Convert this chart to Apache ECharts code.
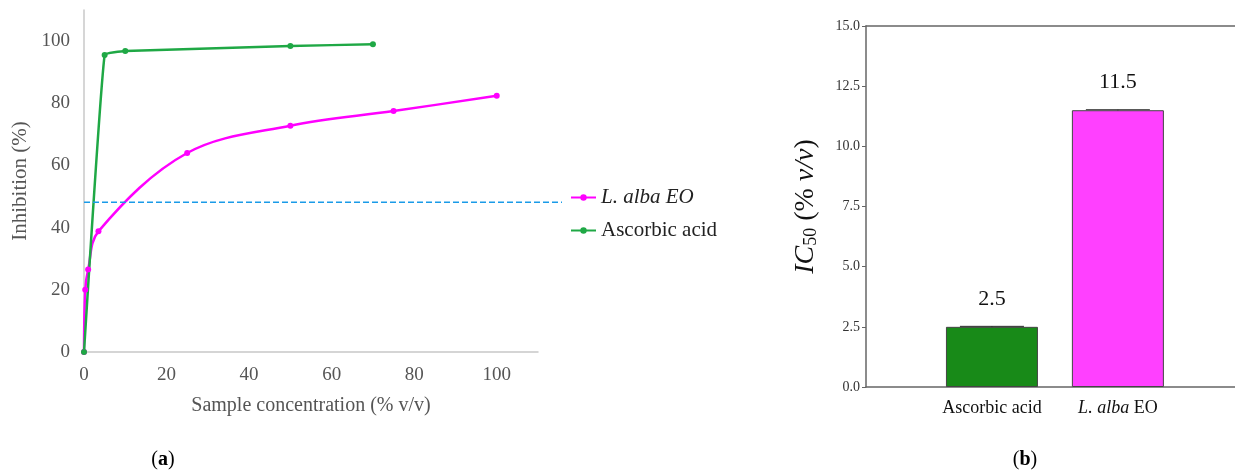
<!DOCTYPE html>
<html><head><meta charset="utf-8">
<script src="https://cdn.jsdelivr.net/npm/echarts@6/dist/echarts.min.js"></script>
<style>html,body{margin:0;padding:0;background:#fff}#c{width:1235px;height:470px}</style>
</head><body><div id="c"></div>
<script>
// ---- data ----
const albaX = [0, 0.3, 1.0, 3.5, 25, 50, 75, 100];
const albaY = [0, 20, 26.5, 38.8, 64, 72.8, 77.5, 82.4];
const ascX = [0, 5, 10, 50, 70];
const ascY = [0, 95.5, 96.8, 98.4, 99];
const halfLine = 48.2;
const barCats = ['', 'Ascorbic acid', 'L. alba EO'];
const barPos = [1, 2];
const ic50 = [2.5, 11.5];
const ic50Err = [0.02, 0.02];
const ic50Ticks = [0, 2.5, 5, 7.5, 10, 12.5, 15];

const serif = '"Liberation Serif", "DejaVu Serif", serif';
const chart = echarts.init(document.getElementById('c'));
const zip = (a, b) => a.map((v, i) => [v, b[i]]);
const barColors = ['#188a18', '#ff40ff'];

chart.setOption({
  animation: false,
  textStyle: { fontFamily: serif },
  title: [
    { text: '({a|a})', left: 158, top: 445, textAlign: 'center',
      textStyle: { fontFamily: serif, fontSize: 20, fontWeight: 'normal', color: '#000',
        rich: { a: { fontFamily: serif, fontSize: 20, fontWeight: 'bold', color: '#000' } } } },
    { text: '({a|b})', left: 1020, top: 445, textAlign: 'center',
      textStyle: { fontFamily: serif, fontSize: 20, fontWeight: 'normal', color: '#000',
        rich: { a: { fontFamily: serif, fontSize: 20, fontWeight: 'bold', color: '#000' } } } }
  ],
  legend: {
    orient: 'vertical', left: 565, top: 182, itemGap: 12, itemWidth: 25, itemHeight: 8,
    textStyle: { fontFamily: serif, fontSize: 21, color: '#222' },
    data: [{ name: 'L. alba EO', textStyle: { fontStyle: 'italic' } }, { name: 'Ascorbic acid' }]
  },
  grid: [
    { left: 84, right: 697, top: 10, bottom: 118 },
    { left: 84, right: 673, top: 10, bottom: 118 },
    { left: 866, right: 0, top: 26, bottom: 83 }
  ],
  xAxis: [
    { gridIndex: 0, type: 'value', min: 0, max: 110, interval: 20,
      name: 'Sample concentration (% v/v)', nameLocation: 'middle', nameGap: 44,
      nameTextStyle: { fontFamily: serif, fontSize: 20, color: '#555' },
      axisLine: { lineStyle: { color: '#c8c8c8', width: 1.5 } }, axisTick: { show: false },
      splitLine: { show: false },
      axisLabel: { fontFamily: serif, fontSize: 19, color: '#555', margin: 14,
        formatter: v => v > 100 ? '' : v } },
    { gridIndex: 1, type: 'value', min: 0, max: 1, show: false },
    { gridIndex: 2, type: 'value', min: 0, max: 2.93, interval: 1,
      axisLine: { lineStyle: { color: '#666', width: 1.5 } }, axisTick: { show: false },
      splitLine: { show: false },
      axisLabel: { fontFamily: serif, fontSize: 18, color: '#111', margin: 12, showMaxLabel: false,
        formatter: v => v === 2 ? '{i|L. alba} EO' : (barCats[v] || ''),
        rich: { i: { fontFamily: serif, fontSize: 18, fontStyle: 'italic', color: '#111' } } } },
    { gridIndex: 2, type: 'value', min: 0, max: 2.93, position: 'top',
      axisLine: { show: true, lineStyle: { color: '#666', width: 1.5 } }, axisTick: { show: false },
      splitLine: { show: false }, axisLabel: { show: false } }
  ],
  yAxis: [
    { gridIndex: 0, type: 'value', min: 0, max: 110, interval: 20,
      name: 'Inhibition (%)', nameLocation: 'middle', nameGap: 53,
      nameTextStyle: { fontFamily: serif, fontSize: 21, color: '#555' },
      axisLine: { show: true, lineStyle: { color: '#c8c8c8', width: 1.5 } }, axisTick: { show: false },
      splitLine: { show: false },
      axisLabel: { fontFamily: serif, fontSize: 19, color: '#555', margin: 14,
        formatter: v => v > 100 ? '' : v } },
    { gridIndex: 1, type: 'value', min: 0, max: 110, show: false },
    { gridIndex: 2, type: 'value', min: ic50Ticks[0], max: ic50Ticks[ic50Ticks.length - 1], interval: 2.5,
      name: '{i|IC}{s|50} (% {i|v/v})', nameLocation: 'middle', nameGap: 46,
      nameTextStyle: { fontFamily: serif, fontSize: 28, color: '#111',
        rich: { i: { fontFamily: serif, fontSize: 28, fontStyle: 'italic', color: '#111' },
                s: { fontFamily: serif, fontSize: 18, color: '#111', verticalAlign: 'bottom', padding: [10, 0, 0, 0] } } },
      axisLine: { show: true, lineStyle: { color: '#666', width: 1.5 } },
      axisTick: { show: true, length: 4, lineStyle: { color: '#666' } },
      splitLine: { show: false },
      axisLabel: { fontFamily: serif, fontSize: 14, color: '#333', margin: 6,
        formatter: v => v.toFixed(1) } }
  ],
  series: [
    { name: 'L. alba EO', type: 'line', xAxisIndex: 0, yAxisIndex: 0, data: zip(albaX, albaY),
      smooth: 0.35, symbol: 'circle', symbolSize: 6,
      lineStyle: { color: '#ff00ff', width: 2.5 }, itemStyle: { color: '#ff00ff' } },
    { name: 'Ascorbic acid', type: 'line', xAxisIndex: 0, yAxisIndex: 0, data: zip(ascX, ascY),
      smooth: 0.1, symbol: 'circle', symbolSize: 6,
      lineStyle: { color: '#1fa845', width: 2.5 }, itemStyle: { color: '#1fa845' } },
    { name: 'half', type: 'line', xAxisIndex: 1, yAxisIndex: 1, data: [[0, halfLine], [1, halfLine]],
      symbol: 'none', lineStyle: { color: '#1a9be8', width: 1.5, type: [6, 3] } },
    { name: 'ic50', type: 'bar', xAxisIndex: 2, yAxisIndex: 2, barWidth: 92,
      data: ic50.map((v, i) => ({ value: [barPos[i], v], itemStyle: { color: barColors[i] } })),
      itemStyle: { borderColor: '#444', borderWidth: 1 },
      label: { show: true, position: 'top', distance: 17, fontFamily: serif, fontSize: 22, color: '#111',
        formatter: p => p.value[1].toFixed(1) } },
    { name: 'err', type: 'custom', xAxisIndex: 2, yAxisIndex: 2,
      data: ic50.map((v, i) => [barPos[i], v - ic50Err[i], v + ic50Err[i]]),
      renderItem: (params, api) => {
        const lo = api.coord([api.value(0), api.value(1)]);
        const hi = api.coord([api.value(0), api.value(2)]);
        const w = 32;
        return { type: 'group', children: [
          { type: 'line', shape: { x1: hi[0] - w, y1: hi[1], x2: hi[0] + w, y2: hi[1] }, style: { stroke: '#222', lineWidth: 1 } },
          { type: 'line', shape: { x1: lo[0], y1: lo[1], x2: hi[0], y2: hi[1] }, style: { stroke: '#222', lineWidth: 1 } }
        ] };
      } }
  ]
});
</script></body></html>
